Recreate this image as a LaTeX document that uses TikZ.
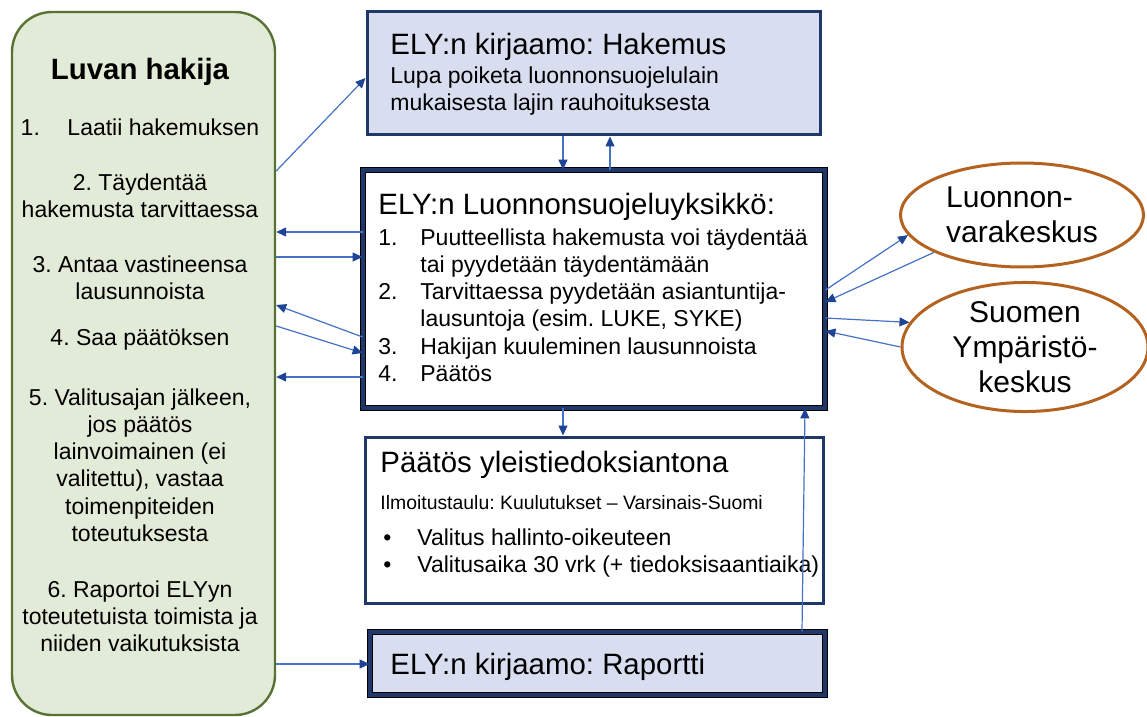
\documentclass[tikz,border=0pt]{standalone}
\usepackage{fontspec}
\setmainfont{Liberation Sans}
\usetikzlibrary{arrows.meta,fit,shapes.geometric}
\definecolor{navy}{RGB}{31,56,105}
\definecolor{lavender}{RGB}{217,221,240}
\definecolor{sage}{RGB}{226,235,215}
\definecolor{olive}{RGB}{88,114,52}
\definecolor{rust}{RGB}{180,98,32}
\definecolor{link}{RGB}{68,114,196}
\definecolor{linkhead}{RGB}{30,68,150}
\newcommand{\bodysize}{\fontsize{11.5pt}{13.6pt}\selectfont}
\newcommand{\headsize}{\fontsize{14.7pt}{17pt}\selectfont}
\newcommand{\smallsize}{\fontsize{9.7pt}{11.5pt}\selectfont}
\newcommand{\ovalsize}{\fontsize{15pt}{17.5pt}\selectfont}
\frenchspacing

\begin{document}
\begin{tikzpicture}[x=0.5pt,y=-0.5pt,
	panel/.style={draw=olive,fill=sage,line width=1.2pt,rounded corners=20pt,inner sep=0pt},
	box/.style={draw=navy,line width=1.5pt,inner sep=0pt},
	thickbox/.style={draw=black,double=navy,line width=0.4pt,double distance=2.2pt,inner sep=0pt},
	oval/.style={ellipse,draw=rust,fill=white,line width=1.5pt,inner sep=0pt,align=center,font=\ovalsize},
	lefttxt/.style={align=center,font=\bodysize,inner sep=0pt},
	head/.style={anchor=west,font=\headsize,inner sep=0pt},
	body/.style={anchor=west,align=left,font=\bodysize,inner sep=0pt},
	conn/.style={draw=link,line width=0.6pt,-{Triangle[length=5pt,width=4.5pt,color=linkhead]}}]
	\useasboundingbox (0,0) rectangle (1147,717);

	\node[panel, fit={(12,12) (275,715)}] (hakija) {};
	\node[box, fill=lavender, fit={(367,12) (820,135)}] (hakemus) {};
	\node[thickbox, fill=white, fit={(363,170) (825,408)}] (yksikko) {};
	\node[box, fill=white, fit={(365,437) (823,603)}] (paatos) {};
	\node[thickbox, fill=lavender, fit={(370,632) (825,695)}] (raportti) {};
	\node[oval, align=left, minimum width=121.5pt, minimum height=52pt] (luke) at (1022,215) {Luonnon-\\varakeskus};
	\node[oval, minimum width=123pt, minimum height=60pt] (syke) at (1025,347) {Suomen\\Ympäristö-\\keskus};

	\node[font=\fontsize{14.7pt}{17pt}\selectfont\bfseries, inner sep=0pt] (luvan) at (140,72) {Luvan hakija};
	\node[lefttxt] (vaihe1) at (140,127) {1.\hspace{1.2em}Laatii hakemuksen};
	\node[lefttxt] (vaihe2) at (140,196) {2. Täydentää\\hakemusta tarvittaessa};
	\node[lefttxt] (vaihe3) at (140,278) {3. Antaa vastineensa\\lausunnoista};
	\node[lefttxt] (vaihe4) at (140,340) {4. Saa päätöksen};
	\node[lefttxt] (vaihe5) at (140,465) {5. Valitusajan jälkeen,\\jos päätös\\lainvoimainen (ei\\valitettu), vastaa\\toimenpiteiden\\toteutuksesta};
	\node[lefttxt] (vaihe6) at (140,616) {6. Raportoi ELYyn\\toteutetuista toimista ja\\niiden vaikutuksista};

	\node[head] (hakemusots) at (390,47) {ELY:n kirjaamo: Hakemus};
	\node[body] (hakemusteksti) at (390,91) {Lupa poiketa luonnonsuojelulain\\mukaisesta lajin rauhoituksesta};

	\node[head] (yksikkoots) at (378,207) {ELY:n Luonnonsuojeluyksikkö:};
	\node[body] (yksikkolista) at (378,305) {\makebox[21pt][l]{1.}Puutteellista hakemusta voi täydentää\\
		\hspace*{21pt}tai pyydetään täydentämään\\
		\makebox[21pt][l]{2.}Tarvittaessa pyydetään asiantuntija-\\
		\hspace*{21pt}lausuntoja (esim. LUKE, SYKE)\\
		\makebox[21pt][l]{3.}Hakijan kuuleminen lausunnoista\\
		\makebox[21pt][l]{4.}Päätös};

	\node[head] (paatosots) at (380,465) {Päätös yleistiedoksiantona};
	\node[anchor=west, font=\smallsize, inner sep=0pt] (ilmoitus) at (380,503) {Ilmoitustaulu: Kuulutukset – Varsinais-Suomi};
	\node[body] (valitus) at (383,553) {\makebox[17pt][l]{\textbullet}Valitus hallinto-oikeuteen\\
		\makebox[17pt][l]{\textbullet}Valitusaika 30 vrk (+ tiedoksisaantiaika)};

	\node[head] (raporttiots) at (390,667) {ELY:n kirjaamo: Raportti};

	\draw[conn] (hakija.east |- 0,171) -- (hakemus.west |- 0,78);
	\draw[conn] (yksikko.west |- 0,232) -- (hakija.east |- 0,232);
	\draw[conn] (hakija.east |- 0,257) -- (yksikko.west |- 0,257);
	\draw[conn] (yksikko.west |- 0,337) -- (hakija.east |- 0,305);
	\draw[conn] (hakija.east |- 0,326) -- (yksikko.west |- 0,353);
	\draw[conn] (yksikko.west |- 0,377) -- (hakija.east |- 0,377);
	\draw[conn] (hakija.east |- 0,664) -- (raportti.west |- 0,664);
	\draw[conn] (hakemus.south -| 563,0) -- (yksikko.north -| 563,0);
	\draw[conn] (yksikko.north -| 610,0) -- (hakemus.south -| 610,0);
	\draw[conn] (yksikko.south -| 563,0) -- (paatos.north -| 563,0);
	\draw[conn] (raportti.north -| 802,0) -- (yksikko.south -| 805,0);
	\draw[conn] (yksikko.east |- 0,290) -- (luke.190);
	\draw[conn] (luke.203) -- (yksikko.east |- 0,302);
	\draw[conn] (yksikko.east |- 0,318) -- (syke.168);
	\draw[conn] (syke.west) -- (yksikko.east |- 0,331);
\end{tikzpicture}
\end{document}
